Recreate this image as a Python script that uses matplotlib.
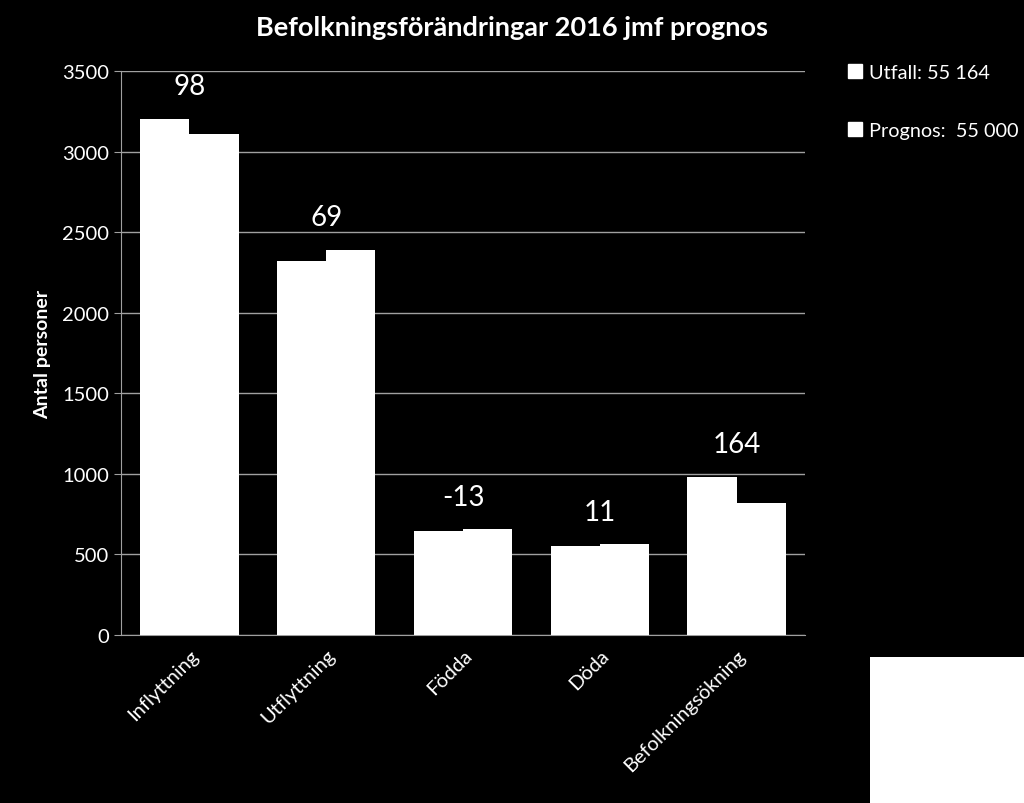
import numpy as np
import matplotlib.pyplot as plt
from matplotlib.patches import Patch, Rectangle

plt.rcParams['font.family'] = ['Lato', 'DejaVu Sans']

kategorier = ['Inflyttning', 'Utflyttning', 'Födda', 'Döda', 'Befolkningsökning']
utfall = [3205, 2321, 648, 553, 982]
prognos = [3107, 2390, 658, 564, 818]
skillnad = ['98', '69', '-13', '11', '164']
legend_text = ['Utfall: 55 164', 'Prognos:  55 000']

fig = plt.figure(figsize=(10.24, 8.04), dpi=100, facecolor='black')
ax = fig.add_axes([121 / 1024, 1 - 636 / 804, 684 / 1024, 564 / 804])
ax.set_facecolor('black')

x = np.arange(len(kategorier))
w = 0.36
ax.bar(x - w / 2, utfall, w, color='white', zorder=3)
ax.bar(x + w / 2, prognos, w, color='white', zorder=3)

for i, txt in enumerate(skillnad):
    top = max(utfall[i], prognos[i])
    ax.annotate(txt, (x[i], top), xytext=(0, 14), textcoords='offset points',
                ha='center', va='bottom', color='white', fontsize=20)

ax.set_xlim(-0.5, len(kategorier) - 0.5)
ax.set_ylim(0, 3500)
ax.set_yticks(np.arange(0, 3501, 500))
ax.grid(axis='y', color='#a0a0a0', linewidth=1, zorder=0)
ax.set_xticks(x)
ax.set_xticklabels(kategorier, rotation=45, ha='right', rotation_mode='anchor')
ax.tick_params(colors='white', labelsize=14.5)
ax.tick_params(axis='y', color='#a0a0a0', length=5)
ax.tick_params(axis='x', length=0, pad=8)
for s in ['top', 'right']:
    ax.spines[s].set_visible(False)
for s in ['left', 'bottom']:
    ax.spines[s].set_color('#a0a0a0')
ax.set_ylabel('Antal personer', color='white', fontsize=14, fontweight='bold', labelpad=8)

fig.suptitle('Befolkningsförändringar 2016 jmf prognos', color='white', fontsize=19.5,
             fontweight='bold', x=512 / 1024, y=1 - 16 / 804, va='top')

handles = [Patch(facecolor='white', edgecolor='white') for _ in legend_text]
leg = fig.legend(handles, legend_text, loc='upper left', bbox_to_anchor=(840 / 1024, 1 - 57 / 804),
                 frameon=False, fontsize=14.3, labelspacing=2.05, handlelength=0.7, handleheight=0.7,
                 handletextpad=0.35, borderaxespad=0)
for t in leg.get_texts():
    t.set_color('white')

# vit ruta nere till höger
fig.patches.append(Rectangle((870 / 1024, 0), 154 / 1024, 146 / 804, transform=fig.transFigure,
                             facecolor='white', edgecolor='none'))

fig.savefig('out.png', dpi=100, facecolor='black')
